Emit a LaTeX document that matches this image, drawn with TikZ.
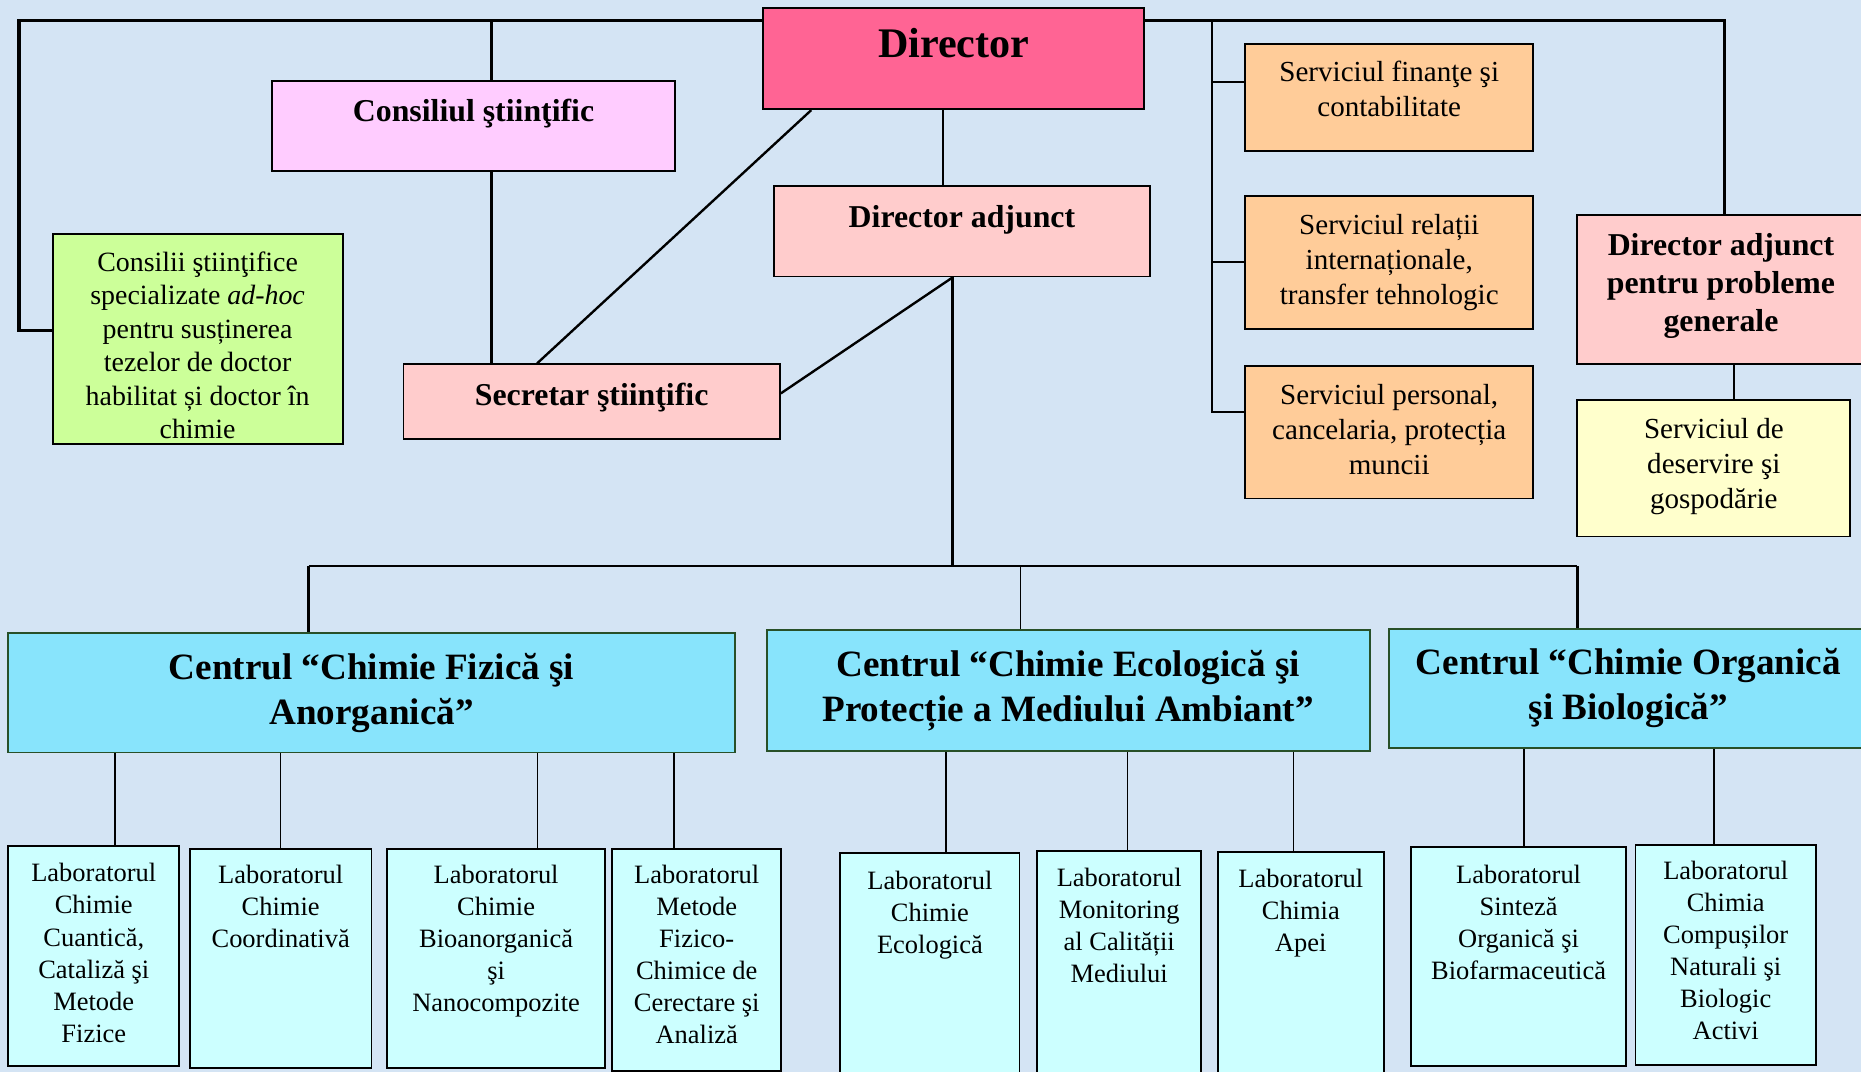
\documentclass[tikz,border=0pt]{standalone}
\usepackage{fontspec}
\setmainfont{Liberation Serif}
\definecolor{bgblue}{RGB}{212,228,244}
\definecolor{dirpink}{RGB}{255,100,148}
\definecolor{conspink}{RGB}{255,204,255}
\definecolor{dapink}{RGB}{255,204,204}
\definecolor{grnbox}{RGB}{204,255,153}
\definecolor{orgbox}{RGB}{255,204,153}
\definecolor{yelbox}{RGB}{255,255,204}
\definecolor{cenbox}{RGB}{136,228,252}
\definecolor{labbox}{RGB}{204,255,255}
\definecolor{cenborder}{RGB}{40,80,40}
\newcommand\fDir{\fontsize{35.5}{40}\selectfont\bfseries}
\newcommand\fHead{\fontsize{26.8}{32}\selectfont\bfseries}
\newcommand\fCen{\fontsize{31.3}{38}\selectfont\bfseries}
\newcommand\fSvc{\fontsize{24.5}{29.5}\selectfont}
\newcommand\fGrn{\fontsize{23.5}{28.2}\selectfont}
\newcommand\fLab{\fontsize{22.3}{27}\selectfont}
\begin{document}
\begin{tikzpicture}[x=1pt,y=-1pt,
  box/.style={rectangle, line width=1.6pt, inner sep=0pt},
  txt/.style={anchor=north, align=center, inner sep=0pt},
  conn/.style={line width=2pt, draw=black},
  thick conn/.style={line width=2.6pt, draw=black},
  thin conn/.style={line width=1.3pt, draw=black}]
\useasboundingbox (0,0) rectangle (1568,903);
\clip (0,0) rectangle (1568,903);
\fill[bgblue] (0,0) rectangle (1568,903);

% boxes: name, x1, y1, x2, y2, colour
\newcommand\bx[7][black]{\node[box,draw=#1,fill=#7,minimum width={#5-#3},minimum height={#6-#4}] (#2) at ({(#3+#5)/2},{(#4+#6)/2}) {};}
\bx{dir}{643}{7}{964}{92}{dirpink}
\bx{cons}{229}{68}{569}{144}{conspink}
\bx{da}{652}{157}{969}{233}{dapink}
\bx{sec}{340}{307}{657}{370}{dapink}
\bx{grn}{45}{197}{289}{374}{grnbox}
\bx{s1}{1049}{37}{1292}{127}{orgbox}
\bx{s2}{1049}{165}{1292}{277}{orgbox}
\bx{s3}{1049}{308}{1292}{420}{orgbox}
\bx{dag}{1329}{181}{1580}{307}{dapink}
\bx{yel}{1329}{337}{1559}{452}{yelbox}
\bx[cenborder]{c1}{7}{533}{619}{634}{cenbox}
\bx[cenborder]{c2}{646}{531}{1154}{633}{cenbox}
\bx[cenborder]{c3}{1170}{530}{1580}{630}{cenbox}
\bx{L1}{7}{713}{151}{898}{labbox}
\bx{L2}{160}{715}{313}{900}{labbox}
\bx{L3}{326}{715}{510}{900}{labbox}
\bx{L4}{516}{715}{658}{902}{labbox}
\bx{L5}{708}{719}{859}{912}{labbox}
\bx{L6}{874}{717}{1012}{912}{labbox}
\bx{L7}{1026}{718}{1166}{912}{labbox}
\bx{L8}{1189}{714}{1370}{898}{labbox}
\bx{L9}{1378}{712}{1530}{897}{labbox}

% texts
\node[txt,font=\fDir] (dir-t) at (803.5,24) {Director};
\node[txt,font=\fHead] (cons-t) at (399,83.5) {Consiliul ştiinţific};
\node[txt,font=\fHead] (da-t) at (810.5,172.5) {Director adjunct};
\node[txt,font=\fHead] (sec-t) at (498.5,322.5) {Secretar ştiinţific};
\node[txt,font=\fGrn] (grn-t) at (166.5,212) {Consilii ştiinţifice\\specializate \textit{ad-hoc}\\pentru susținerea\\tezelor de doctor\\habilitat și doctor în\\chimie};
\node[txt,font=\fSvc] (s1-t) at (1170.5,51.5) {Serviciul finanţe şi\\contabilitate};
\node[txt,font=\fSvc] (s2-t) at (1170.5,180.5) {Serviciul relații\\internaționale,\\transfer tehnologic};
\node[txt,font=\fSvc] (s3-t) at (1170.5,323.5) {Serviciul personal,\\cancelaria, protecția\\muncii};
\node[txt,font=\fHead] (dag-t) at (1450,196.5) {Director adjunct\\pentru probleme\\generale};
\node[txt,font=\fSvc] (yel-t) at (1444,352.5) {Serviciul de\\deservire şi\\gospodărie};
\node[txt,font=\fCen] (c1-t) at (313,550) {Centrul “Chimie Fizică şi\\Anorganică”};
\node[txt,font=\fCen] (c2-t) at (900,548) {Centrul “Chimie Ecologică şi\\Protecție a Mediului Ambiant”};
\node[txt,font=\fCen] (c3-t) at (1372,546) {Centrul “Chimie Organică\\şi Biologică”};
\node[txt,font=\fLab] (L1-t) at (79,727.4) {Laboratorul\\Chimie\\Cuantică,\\Cataliză şi\\Metode\\Fizice};
\node[txt,font=\fLab] (L2-t) at (236.5,728.4) {Laboratorul\\Chimie\\Coordinativă};
\node[txt,font=\fLab] (L3-t) at (418,728.4) {Laboratorul\\Chimie\\Bioanorganică\\şi\\Nanocompozite};
\node[txt,font=\fLab] (L4-t) at (587,728.4) {Laboratorul\\Metode\\Fizico-\\Chimice de\\Cerectare şi\\Analiză};
\node[txt,font=\fLab] (L5-t) at (783.5,733.4) {Laboratorul\\Chimie\\Ecologică};
\node[txt,font=\fLab] (L6-t) at (943,731.4) {Laboratorul\\Monitoring\\al Calității\\Mediului};
\node[txt,font=\fLab] (L7-t) at (1096,732.4) {Laboratorul\\Chimia\\Apei};
\node[txt,font=\fLab] (L8-t) at (1279.5,728.4) {Laboratorul\\Sinteză\\Organică şi\\Biofarmaceutică};
\node[txt,font=\fLab] (L9-t) at (1454,725.4) {Laboratorul\\Chimia\\Compușilor\\Naturali şi\\Biologic\\Activi};

% connectors
\coordinate (tl) at (16,17);
\coordinate (tr) at (1453,17);
\coordinate (sv) at (1021,17);
\coordinate (hy) at (0,477);
\coordinate (gw) at ([yshift=7]grn.west);
\draw[thick conn] (dir.west |- tl) -- (tl) -- (tl |- gw) -- (gw);
\coordinate (cn) at ([xshift=15]cons.north);
\coordinate (cs) at ([xshift=15]cons.south);
\draw[conn] (cn |- tl) -- (cn);
\draw[conn] (cs) -- (cs |- sec.north);
\draw[thick conn] (dir.east |- tr) -- (tr) -- (tr |- dag.north);
\coordinate (b1) at ([yshift=13]s1.west);
\coordinate (b2) at (s2.west);
\coordinate (b3) at ([yshift=17]s3.west);
\draw[conn] (sv) -- (sv |- b3) -- (b3);
\draw[conn] (sv |- b1) -- (b1);
\draw[conn] (sv |- b2) -- (b2);
\coordinate (d1) at ([xshift=-120]dir.south);
\coordinate (d2) at ([xshift=-46]sec.north);
\draw[conn] (d1) -- (d2);
\coordinate (d3) at ([xshift=-9]dir.south);
\draw[conn] (d3) -- (d3 |- da.north);
\coordinate (d4) at ([xshift=-8]da.south);
\draw[conn] (d4) -- ([yshift=7]sec.east);
\draw[conn] (d4) -- (d4 |- hy);
\coordinate (h1) at (260,477);
\coordinate (h2) at (860,477);
\coordinate (h3) at (1329,477);
\draw[conn] (h1) -- (h3);
\draw[conn] (h1) -- (h1 |- c1.north);
\draw[thin conn] (h2) -- (h2 |- c2.north);
\draw[conn] (h3) -- (h3 |- c3.north);
\coordinate (y1) at ([xshift=17]yel.north);
\draw[conn] (y1) -- (y1 |- dag.south);
\coordinate (l1) at ([xshift=18]L1.north);
\coordinate (l2) at (L2.north);
\coordinate (l3) at ([xshift=35]L3.north);
\coordinate (l4) at ([xshift=-19]L4.north);
\coordinate (l5) at ([xshift=13.5]L5.north);
\coordinate (l6) at ([xshift=7]L6.north);
\coordinate (l7) at ([xshift=-6]L7.north);
\coordinate (l8) at ([xshift=4.5]L8.north);
\coordinate (l9) at ([xshift=-10]L9.north);
\draw[thin conn] (l1 |- c1.south) -- (l1);
\draw[thin conn] (l2 |- c1.south) -- (l2);
\draw[thin conn] (l3 |- c1.south) -- (l3);
\draw[thin conn] (l4 |- c1.south) -- (l4);
\draw[thin conn] (l5 |- c2.south) -- (l5);
\draw[thin conn] (l6 |- c2.south) -- (l6);
\draw[thin conn] (l7 |- c2.south) -- (l7);
\draw[thin conn] (l8 |- c3.south) -- (l8);
\draw[thin conn] (l9 |- c3.south) -- (l9);
\end{tikzpicture}
\end{document}
